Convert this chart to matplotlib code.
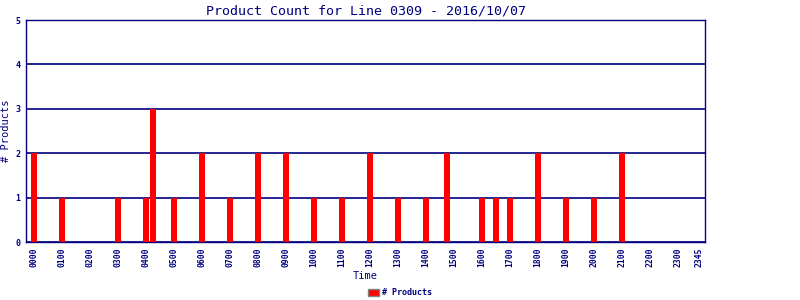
import matplotlib
matplotlib.use("Agg")
import matplotlib.pyplot as plt
import numpy as np

# 15-minute slots for the whole day
slots = ["%02d%02d" % (h, m) for h in range(24) for m in (0, 15, 30, 45)]

# slots with product counts (others are zero)
hit_times = ["0000", "0100", "0300", "0400", "0415", "0500", "0600", "0700",
             "0800", "0900", "1000", "1100", "1200", "1300", "1400", "1445",
             "1600", "1630", "1700", "1800", "1900", "2000", "2100"]
hit_counts = [2, 1, 1, 1, 3, 1, 2, 1,
              2, 2, 1, 1, 2, 1, 1, 2,
              1, 1, 1, 2, 1, 1, 2]

tick_labels = ["%02d00" % h for h in range(24)] + ["2345"]

counts = [0] * len(slots)
for t, c in zip(hit_times, hit_counts):
    counts[slots.index(t)] = c

navy = "#000080"
mono = "DejaVu Sans Mono"

fig = plt.figure(figsize=(8, 3), dpi=100)
ax = fig.add_axes([0.0325, 0.193, 0.849, 0.74])

x = np.arange(len(slots))
ax.bar(x, counts, width=0.86, color="#ff0000", label="# Products", zorder=3,
       edgecolor="none")

ax.set_xlim(-1.15, len(slots) - 0.15)
ax.set_ylim(0, 5)
ax.set_yticks(range(6))
ax.yaxis.grid(True, color=navy, linewidth=1.2, zorder=1)

tick_pos = [slots.index(t) for t in tick_labels]
ax.set_xticks(tick_pos)
ax.set_xticklabels(tick_labels, rotation=90, family=mono, fontsize=5.8,
                   fontweight="bold", color=navy)
for lab in ax.get_yticklabels():
    lab.set_family(mono)
    lab.set_fontsize(6)
    lab.set_fontweight("bold")
    lab.set_color(navy)

ax.tick_params(axis="x", length=0, pad=4)
ax.tick_params(axis="y", length=0, pad=4)
for s in ax.spines.values():
    s.set_color(navy)
    s.set_linewidth(1)

ax.set_title("Product Count for Line 0309 - 2016/10/07", family=mono,
             fontsize=9.6, color=navy, pad=4)
ax.set_ylabel("# Products", family=mono, fontsize=7.5, color=navy, labelpad=3)
ax.set_xlabel("Time", family=mono, fontsize=7.5, color=navy, labelpad=3)

leg = fig.legend(loc="lower center", bbox_to_anchor=(0.5, -0.015), frameon=False,
                 prop={"family": mono, "size": 6, "weight": "bold"},
                 handlelength=1.3, handleheight=0.9, handletextpad=0.4)
for t in leg.get_texts():
    t.set_color(navy)
for h in leg.legend_handles:
    h.set_edgecolor("#808080")
    h.set_linewidth(1)

fig.savefig("out.png", dpi=100)
